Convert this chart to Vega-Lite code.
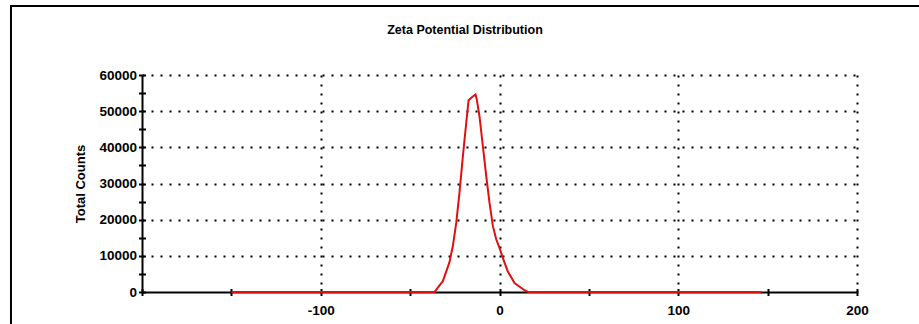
{
  "$schema": "https://vega.github.io/schema/vega-lite/v6.json",
  "width": 715,
  "height": 217,
  "autosize": "none",
  "padding": {"left": 142, "top": 75, "right": 62, "bottom": 32},
  "background": "white",
  "title": {
    "text": "Zeta Potential Distribution",
    "font": "Liberation Sans",
    "fontSize": 12.5,
    "fontWeight": "bold",
    "color": "black",
    "anchor": "middle",
    "frame": "group",
    "baseline": "middle",
    "offset": 0,
    "dx": -34.5,
    "dy": 38
  },
  "config": {
    "view": {"stroke": null},
    "axis": {
      "labelFont": "Liberation Sans",
      "labelFontSize": 13.5,
      "labelFontWeight": "bold",
      "labelColor": "black",
      "titleFont": "Liberation Sans",
      "titleFontSize": 13,
      "titleFontWeight": "bold",
      "titleColor": "black",
      "domainColor": "black",
      "domainWidth": 2,
      "tickColor": "black",
      "tickWidth": 2,
      "gridColor": "black",
      "gridDash": [2, 7],
      "gridWidth": 2
    }
  },
  "resolve": {"axis": {"x": "independent", "y": "independent"}},
  "layer": [
    {
      "data": {"values": [{"frame": "border"}]},
      "mark": {"type": "rect", "filled": false, "stroke": "black", "strokeWidth": 2, "clip": false},
      "encoding": {
        "x": {
          "datum": -273.3,
          "type": "quantitative",
          "scale": {"domain": [-200, 200], "nice": false, "zero": false},
          "axis": {
            "orient": "bottom",
            "values": [-200, -150, -100, -50, 0, 50, 100, 150, 200],
            "labels": false,
            "domain": false,
            "grid": false,
            "title": null,
            "tickSize": -3.5
          }
        },
        "x2": {"datum": 238},
        "y": {
          "datum": 79080,
          "type": "quantitative",
          "scale": {"domain": [0, 60000], "nice": false},
          "axis": {
            "orient": "left",
            "values": [0, 5000, 10000, 15000, 20000, 25000, 30000, 35000, 40000, 45000, 50000, 55000, 60000],
            "labels": false,
            "domain": false,
            "grid": false,
            "title": null,
            "tickSize": -3.5
          }
        },
        "y2": {"datum": -11000}
      }
    },
    {
      "data": {
        "values": [
          {"zeta": -150, "counts": 0},
          {"zeta": -36.4, "counts": 0},
          {"zeta": -31.7, "counts": 3000},
          {"zeta": -28, "counts": 8200},
          {"zeta": -26.1, "counts": 12700},
          {"zeta": -24.2, "counts": 19100},
          {"zeta": -22.4, "counts": 27400},
          {"zeta": -20.5, "counts": 37500},
          {"zeta": -18.6, "counts": 46800},
          {"zeta": -17.3, "counts": 53000},
          {"zeta": -15.8, "counts": 53700},
          {"zeta": -13.4, "counts": 54600},
          {"zeta": -12.7, "counts": 53200},
          {"zeta": -11.2, "counts": 48600},
          {"zeta": -9.3, "counts": 40300},
          {"zeta": -7.4, "counts": 32000},
          {"zeta": -5.6, "counts": 24700},
          {"zeta": -3.7, "counts": 18200},
          {"zeta": -1.8, "counts": 14500},
          {"zeta": 0, "counts": 12200},
          {"zeta": 1.8, "counts": 9500},
          {"zeta": 4.6, "counts": 5750},
          {"zeta": 8.4, "counts": 2500},
          {"zeta": 14, "counts": 500},
          {"zeta": 16, "counts": 0},
          {"zeta": 146.5, "counts": 0}
        ]
      },
      "mark": {"type": "line", "color": "#dd1111", "strokeWidth": 2},
      "encoding": {
        "x": {
          "field": "zeta",
          "type": "quantitative",
          "scale": {"domain": [-200, 200], "nice": false, "zero": false},
          "axis": {
            "orient": "bottom",
            "values": [-200, -150, -100, -50, 0, 50, 100, 150, 200],
            "title": null,
            "labelExpr": "(datum.value % 100 === 0 && datum.value > -200) ? toString(datum.value) : ''",
            "tickSize": 3.5,
            "labelPadding": 8,
            "labelFlush": false,
            "labelOverlap": false,
            "grid": true,
            "gridOpacity": {"condition": {"test": "datum.value % 100 === 0 && datum.value > -200", "value": 1}, "value": 0}
          }
        },
        "y": {
          "field": "counts",
          "type": "quantitative",
          "scale": {"domain": [0, 60000], "nice": false},
          "axis": {
            "orient": "left",
            "values": [0, 5000, 10000, 15000, 20000, 25000, 30000, 35000, 40000, 45000, 50000, 55000, 60000],
            "title": "Total Counts",
            "labelExpr": "datum.value % 10000 === 0 ? toString(datum.value) : ''",
            "tickSize": 3.5,
            "labelPadding": 2,
            "titlePadding": 11,
            "labelOverlap": false,
            "grid": true,
            "gridOpacity": {"condition": {"test": "datum.value % 10000 === 0 && datum.value > 0", "value": 1}, "value": 0}
          }
        }
      }
    }
  ]
}
